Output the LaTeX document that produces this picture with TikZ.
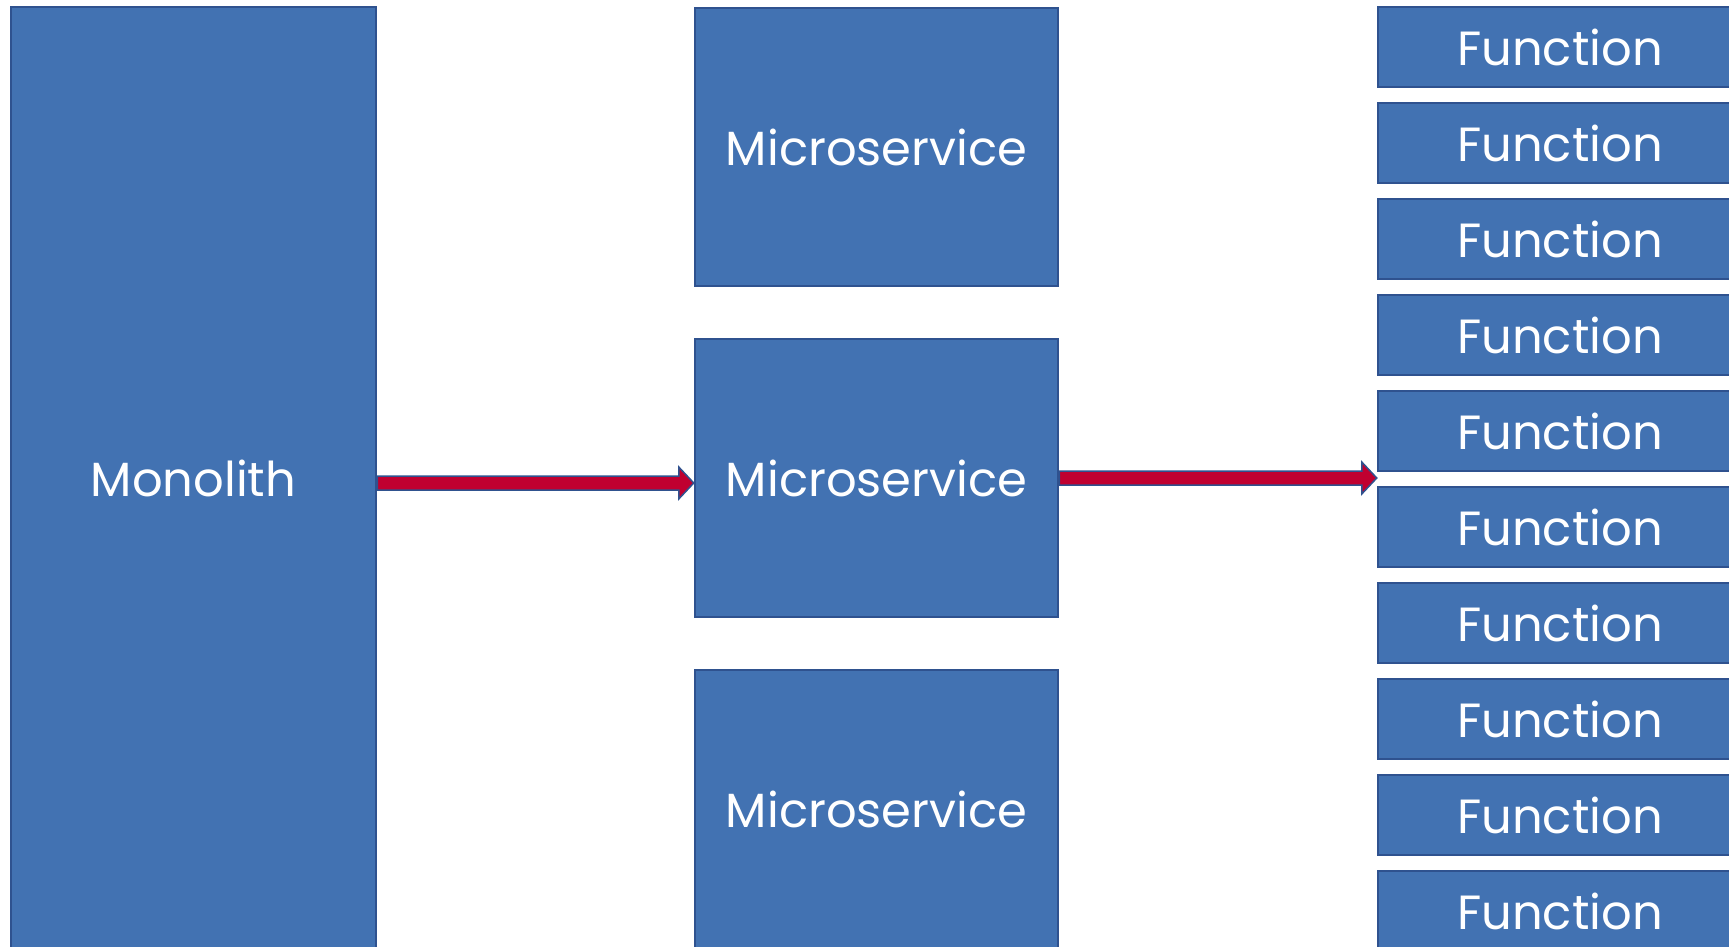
\documentclass[tikz,border=0pt]{standalone}
\usepackage{fontspec}
\setmainfont{Poppins}
\usetikzlibrary{calc}
\definecolor{boxfill}{RGB}{66,114,178}
\definecolor{boxline}{RGB}{47,82,143}
\definecolor{arrowred}{RGB}{192,0,48}
\tikzset{
  block/.style={draw=boxline, fill=boxfill, line width=2.5pt, inner sep=0pt,
    text=white, font=\fontsize{48}{56}\selectfont},
  mono/.style={block, minimum width=365pt, minimum height=942pt},
  micro/.style={block, minimum width=363pt, minimum height=278pt},
  func/.style={block, minimum width=364pt, minimum height=80pt},
  blockarrow/.style={draw=boxline, fill=arrowred, line width=1.5pt, line join=miter}
}
\newcommand{\blockarrowpath}[2]{%
  \draw[blockarrow] let \p1=(#1), \p2=(#2) in
    (\x1,\y1+7) -- (\x2-15,\y2+7) -- (\x2-15,\y2+16) -- (\x2,\y2) --
    (\x2-15,\y2-16) -- (\x2-15,\y2-7) -- (\x1,\y1-7) -- cycle;}
\begin{document}
\begin{tikzpicture}[x=1pt,y=1pt]
\useasboundingbox (0,0) rectangle (1729,-947);
\node[mono] (mono) at (193.5,-478) {Monolith};
\node[micro] (m1) at (876.5,-147) {Microservice};
\node[micro] (m2) at (876.5,-478) {Microservice};
\node[micro] (m3) at (876.5,-809) {Microservice};
\foreach \i in {0,...,9}{
  \node[func] (f\i) at (1560,{-47-96*\i}) {Function};
}
\coordinate (a1s) at ($(mono.east |- m2.west)+(0,-5)$);
\coordinate (a1e) at ($(m2.west)+(0,-5)$);
\coordinate (a2s) at (m2.east);
\coordinate (a2e) at (f0.west |- m2.east);
\blockarrowpath{a1s}{a1e}
\blockarrowpath{a2s}{a2e}
\end{tikzpicture}
\end{document}
